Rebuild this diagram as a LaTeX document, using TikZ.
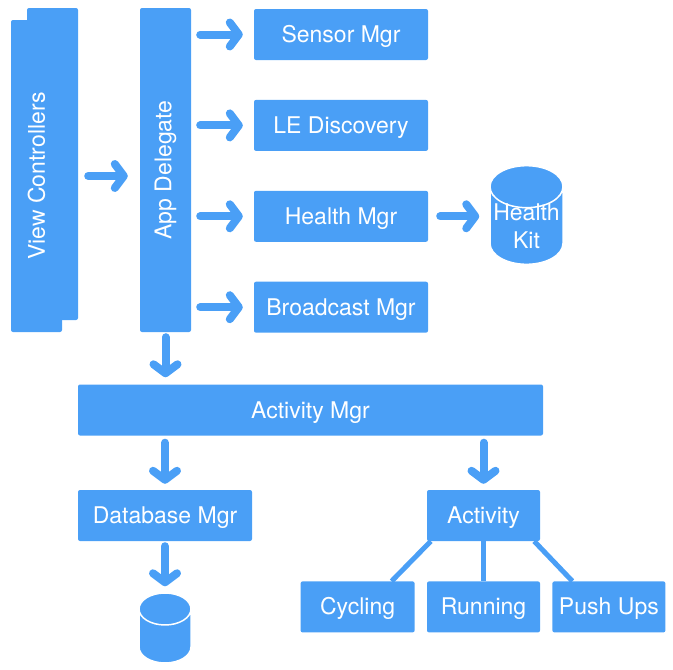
\documentclass[tikz,border=0pt]{standalone}
\usepackage{fontspec}
\setmainfont{TeX Gyre Heros}
\usetikzlibrary{arrows.meta,positioning,shapes.geometric,shadows}
\definecolor{appblue}{HTML}{4A9FF6}

\begin{document}
\begin{tikzpicture}[
	x = 1pt, y = -1pt, % pixel grid, y downwards
	> = {Straight Barb[length=9pt, width=24pt, round]}, % chevron head
	B/.style={rectangle, fill=appblue, rounded corners=2pt, text=white, inner sep=0pt, minimum height=51pt, text height=16pt, text depth=0pt, font=\fontsize{23}{28}\selectfont},
	V/.style={B, minimum width=51pt, text height=, text depth=},
	D/.style={cylinder, shape border rotate=90, anchor=shape center, fill=appblue, draw=white, line width=1.5pt, text=white, inner sep=0pt, align=center, font=\fontsize{23}{28}\selectfont},
	A/.style={->, draw=appblue, line width=8pt, line cap=round},
	L/.style={draw=appblue, line width=5pt},
	]
	\useasboundingbox (0,0) rectangle (673,670);

	% Nodes and their positions
	\node[V, minimum height=312pt, copy shadow={shadow xshift=16pt, shadow yshift=12pt, fill=appblue, draw=none}] (vc) at (36.5,176) {\rotatebox{90}{View Controllers}};
	\node[V, minimum height=324pt] (ad) at (165.5,170) {\rotatebox{90}{App Delegate}};

	\node[B, minimum width=174pt] (sm) at (341,34.5) {Sensor Mgr};
	\node[B, minimum width=174pt] (le) [below = 39.5pt of sm] {LE Discovery};
	\node[B, minimum width=174pt] (hm) [below = 39.5pt of le] {Health Mgr};
	\node[B, minimum width=174pt] (bm) [below = 39.5pt of hm] {Broadcast Mgr};
	\node[D, text width=73pt, inner ysep=-5pt, minimum height=87pt, aspect=0.575] (hk) at (526.5,215) {Health\\Kit};

	\node[B, minimum width=465pt] (am) at (310.5,410) {Activity Mgr};
	\node[B, minimum width=174pt] (db) at (165,515.5) {Database Mgr};
	\node[D, text width=52pt, minimum height=70pt, aspect=0.615] (dc) at (165,628) {};

	\node[B, minimum width=113pt] (act) at (483.5,515.5) {Activity};
	\node[B, minimum width=113pt] (run) [below = 40pt of act] {Running};
	\node[B, minimum width=114pt] (cyc) [left = 12pt of run] {Cycling};
	\node[B, minimum width=113pt] (pu) [right = 12pt of run] {Push Ups};

	% Paths connecting nodes
	\draw[A, shorten <=26pt, shorten >=12pt] (vc.east) -- (ad.west |- vc.east);
	\draw[A, shorten <=9pt, shorten >=11pt] (ad.east |- sm) -- (sm.west);
	\draw[A, shorten <=9pt, shorten >=11pt] (ad.east |- le) -- (le.west);
	\draw[A, shorten <=9pt, shorten >=11pt] (ad.east |- hm) -- (hm.west);
	\draw[A, shorten <=9pt, shorten >=11pt] (ad.east |- bm) -- (bm.west);
	\draw[A, shorten <=12pt, shorten >=10pt] (hm.east) -- (hk.west |- hm.east);

	\draw[A, shorten <=5pt, shorten >=7pt] (ad.south) -- (ad.south |- am.north);
	\draw[A, shorten <=7pt, shorten >=6pt] (db.north |- am.south) -- (db.north);
	\draw[A, shorten <=7pt, shorten >=6pt] (act.north |- am.south) -- (act.north);
	\draw[A, shorten <=5pt, shorten >=6pt] (db.south) -- (db.south |- dc.top);

	\draw[L] ([xshift=4pt]act.south west) -- ([xshift=34pt]cyc.north);
	\draw[L] (act.south) -- (run.north);
	\draw[L] ([xshift=-6pt]act.south east) -- ([xshift=-36.5pt]pu.north);

\end{tikzpicture}
\end{document}
